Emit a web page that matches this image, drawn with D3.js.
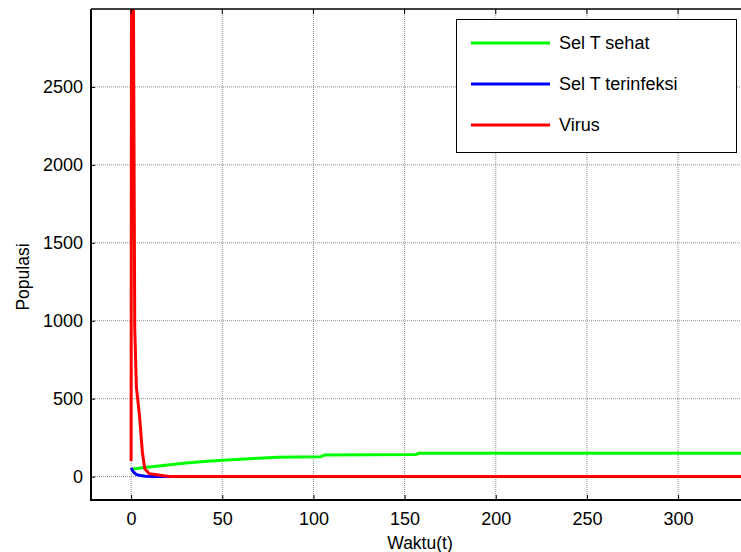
<!DOCTYPE html>
<html>
<head>
<meta charset="utf-8">
<script src="https://cdn.jsdelivr.net/npm/d3@7"></script>
<style>
  body { margin: 0; background: #fff; }
  text { font-family: Arial, "Liberation Sans", sans-serif; }
</style>
</head>
<body>
<div class="visual"></div>
<script>
// data
const xTicks = [0, 50, 100, 150, 200, 250, 300];
const yTicks = [0, 500, 1000, 1500, 2000, 2500];

const sehatT = [0, 2, 5, 10, 20, 30, 40, 50, 65, 80, 104, 106, 156, 158, 345];
const sehatV = [45, 50, 55, 62, 75, 87, 97, 105, 115, 124, 128, 138, 142, 150, 150];

const infT = [0, 0.5, 1, 2, 3, 5, 8, 12, 20, 345];
const infV = [55, 45, 35, 22, 13, 7, 3, 1, 0, 0];

const virusT = [0, 0.4, 1.3, 1.5, 1.8, 2.0, 2.9, 4.6, 6.2, 7.5, 10, 18, 22, 345];
const virusV = [100, 6000, 3000, 2400, 1500, 950, 575, 390, 155, 50, 19, 5, 0, 0];

const seriesNames = ["Sel T sehat", "Sel T terinfeksi", "Virus"];
const seriesColors = ["#00ff00", "#0000ff", "#ff0000"];

//set constants
const width = 741, height = 552;
const plot = {left: 91, top: 9, bottom: 500, right: 751};
const fontSize = 18;

const svg = d3.select(".visual")
  .append("svg")
  .attr("width", width)
  .attr("height", height);

const xScale = d3.scaleLinear().domain([-22, 340]).range([plot.left, plot.right]);
const yScale = d3.scaleLinear().domain([-150, 3000]).range([plot.bottom, plot.top]);

// grid (dotted)
svg.append("g").selectAll("line")
  .data(xTicks)
  .enter().append("line")
  .attr("x1", d => xScale(d)).attr("x2", d => xScale(d))
  .attr("y1", plot.top).attr("y2", plot.bottom)
  .attr("stroke", "#8c8c8c").attr("stroke-width", 1)
  .attr("stroke-dasharray", "1,1");
svg.append("g").selectAll("line")
  .data(yTicks)
  .enter().append("line")
  .attr("x1", plot.left).attr("x2", width)
  .attr("y1", d => yScale(d)).attr("y2", d => yScale(d))
  .attr("stroke", "#8c8c8c").attr("stroke-width", 1)
  .attr("stroke-dasharray", "1,1");

// clip
svg.append("clipPath").attr("id", "clip")
  .append("rect")
  .attr("x", plot.left).attr("y", plot.top)
  .attr("width", plot.right - plot.left).attr("height", plot.bottom - plot.top);

const line = d3.line().x(d => xScale(d[0])).y(d => yScale(d[1]));
const allSeries = [
  d3.zip(sehatT, sehatV),
  d3.zip(infT, infV),
  d3.zip(virusT, virusV)
];

svg.append("g").attr("clip-path", "url(#clip)")
  .selectAll("path")
  .data(allSeries)
  .enter().append("path")
  .attr("d", line)
  .attr("fill", "none")
  .attr("stroke", (d, i) => seriesColors[i])
  .attr("stroke-width", 3)
  .attr("stroke-linejoin", "round");

// axes, MATLAB style: ticks inside
const xAxis = d3.axisBottom(xScale).tickValues(xTicks).tickFormat(d3.format("d"))
  .tickSize(-5).tickPadding(12);
svg.append("g")
  .attr("id", "x-axis")
  .attr("transform", "translate(0," + plot.bottom + ")")
  .call(xAxis)
  .call(g => g.select(".domain").remove());

const yAxis = d3.axisLeft(yScale).tickValues(yTicks).tickFormat(d3.format("d"))
  .tickSize(-4).tickPadding(8);
svg.append("g")
  .attr("id", "y-axis")
  .attr("transform", "translate(" + plot.left + ",0)")
  .call(yAxis)
  .call(g => g.select(".domain").remove());

// top ticks
svg.append("g").selectAll("line")
  .data(xTicks)
  .enter().append("line")
  .attr("x1", d => xScale(d)).attr("x2", d => xScale(d))
  .attr("y1", plot.top).attr("y2", plot.top + 5)
  .attr("stroke", "#000");

svg.selectAll(".tick line").attr("stroke", "#000");
svg.selectAll(".tick text")
  .attr("font-size", fontSize)
  .attr("font-family", "Arial, 'Liberation Sans', sans-serif")
  .attr("fill", "#000");

// box lines
svg.append("line")
  .attr("x1", plot.left).attr("x2", width)
  .attr("y1", plot.bottom).attr("y2", plot.bottom)
  .attr("stroke", "#000").attr("stroke-width", 2);
svg.append("line")
  .attr("x1", plot.left).attr("x2", plot.left)
  .attr("y1", plot.top).attr("y2", plot.bottom + 1)
  .attr("stroke", "#000").attr("stroke-width", 2);
svg.append("line")
  .attr("x1", plot.left).attr("x2", width)
  .attr("y1", plot.top).attr("y2", plot.top)
  .attr("stroke", "#000").attr("stroke-width", 1.5);

// axis titles
svg.append("text")
  .attr("x", 420).attr("y", 549)
  .attr("text-anchor", "middle")
  .attr("font-size", 17.5)
  .text("Waktu(t)");
svg.append("text")
  .attr("transform", "translate(29,277) rotate(-90)")
  .attr("text-anchor", "middle")
  .attr("font-size", 17.5)
  .text("Populasi");

//legend
const legendBox = svg.append("g").attr("id", "legend");
legendBox.append("rect")
  .attr("x", 456.5).attr("y", 19.5)
  .attr("width", 280).attr("height", 133)
  .attr("fill", "#fff")
  .attr("stroke", "#000").attr("stroke-width", 1);

const legend = legendBox.selectAll(".legend")
  .data(seriesNames)
  .enter().append("g")
  .attr("class", "legend")
  .attr("transform", (d, i) => "translate(0," + (43 + i * 41) + ")");
legend.append("line")
  .attr("x1", 471).attr("x2", 550)
  .attr("y1", 0).attr("y2", 0)
  .attr("stroke", (d, i) => seriesColors[i])
  .attr("stroke-width", 3);
legend.append("text")
  .attr("x", 559).attr("y", 6)
  .attr("font-size", fontSize)
  .text(d => d);
</script>
</body>
</html>
